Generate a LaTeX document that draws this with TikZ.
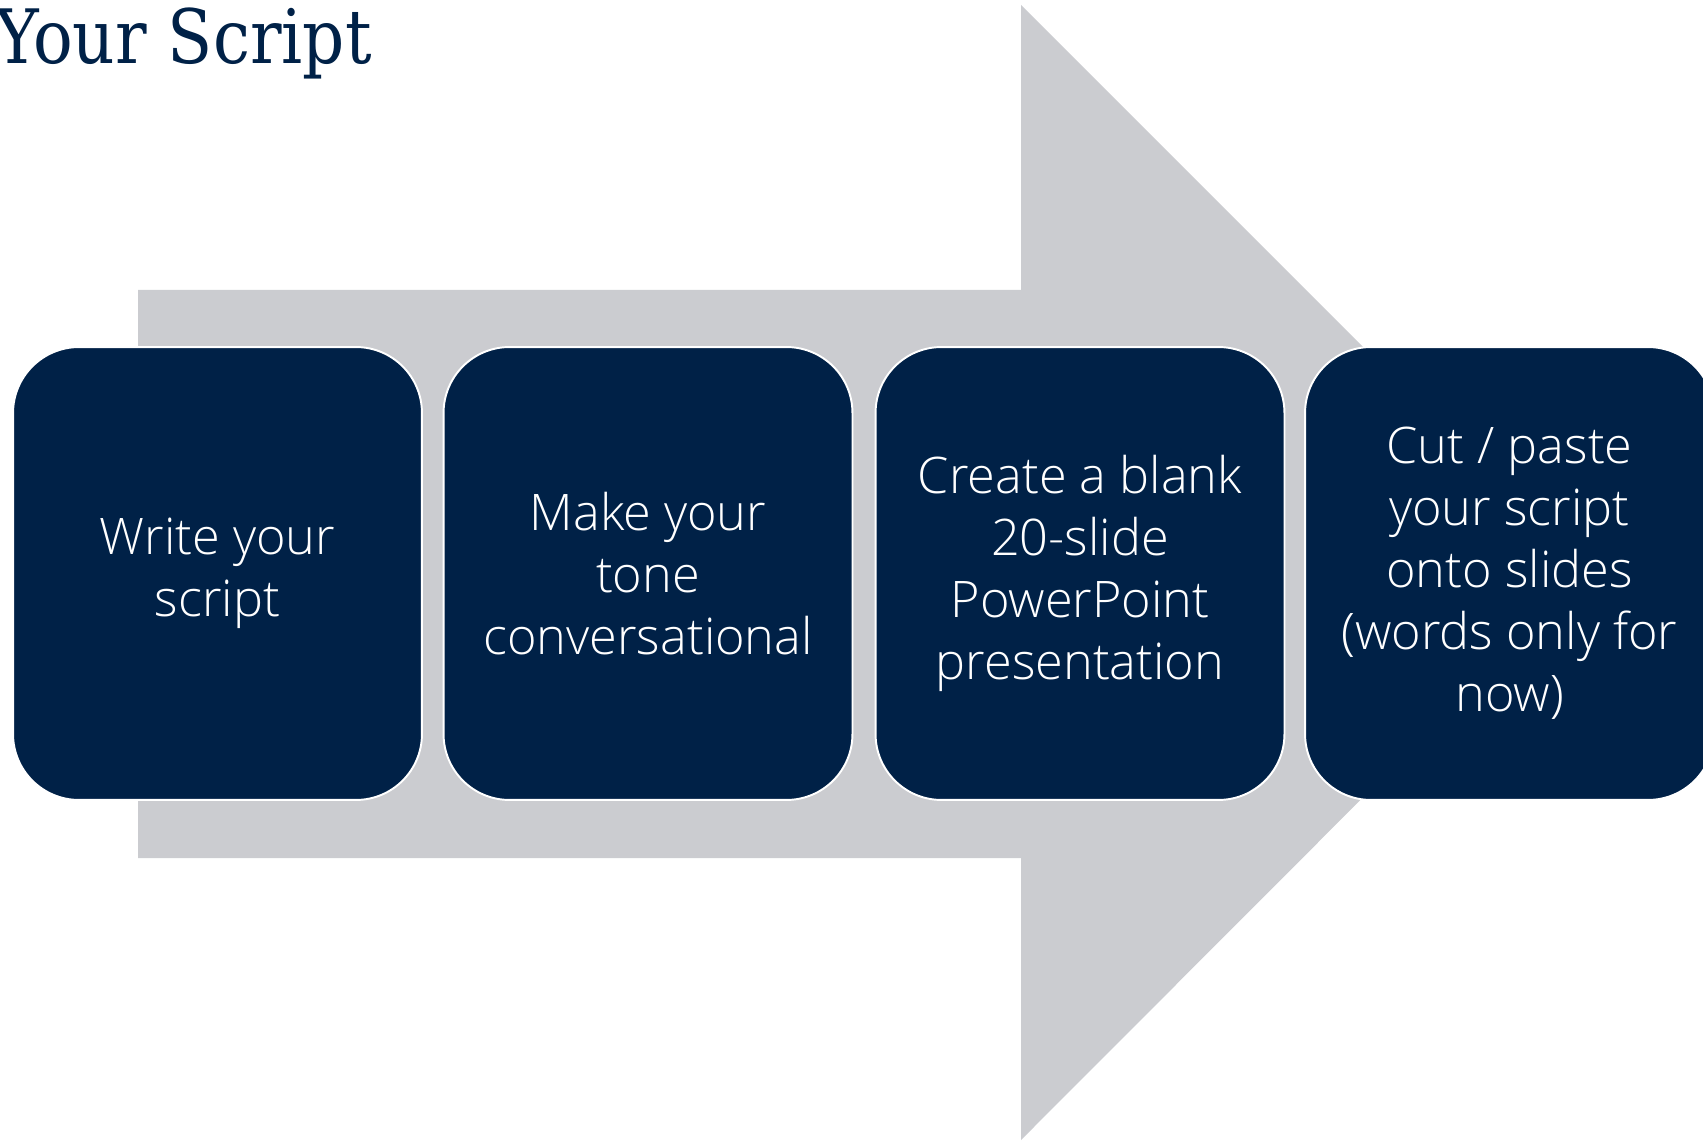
\documentclass[tikz,border=0pt]{standalone}
\usepackage{fontspec}
\IfFontExistsTF{Open Sans Light}{\setmainfont{Open Sans Light}}{\setmainfont{Open Sans}}
\newfontfamily\titlefont[FakeStretch=0.88]{DejaVu Serif}
\definecolor{navy}{RGB}{0,33,71}
\definecolor{arrowgray}{RGB}{203,204,208}

\begin{document}
\begin{tikzpicture}[x=0.02cm,y=-0.02cm,
  stepbox/.style={minimum width=8.18cm,minimum height=9.06cm,rounded corners=1.32cm,
    draw=white,line width=1.1pt,fill=navy,text=white,align=center,inner sep=0pt,
    font=\fontsize{28.7}{35.3}\selectfont}]
\useasboundingbox (0,0) rectangle (1703,1141);
\clip (0,0) rectangle (1703,1141);
\fill[arrowgray] (138,290) -- (1021,290) -- (1021,5) -- (1588,572) -- (1021,1140) -- (1021,858) -- (138,858) -- cycle;
\draw (372,64) node[anchor=base east,inner sep=0pt,text=navy,font=\titlefont\fontsize{42.7}{50}\selectfont](title) {Your Script};
\draw (217.5,573.5) node[stepbox](write) {Write your\\script};
\draw (648,573.5) node[stepbox](tone) {Make your\\tone\\conversational};
\draw (1080,573.5) node[stepbox](blank) {Create a blank\\20-slide\\PowerPoint\\presentation};
\draw (1509.5,573.5) node[stepbox](paste) {Cut / paste\\your script\\onto slides\\(words only for\\now)};
\end{tikzpicture}
\end{document}
